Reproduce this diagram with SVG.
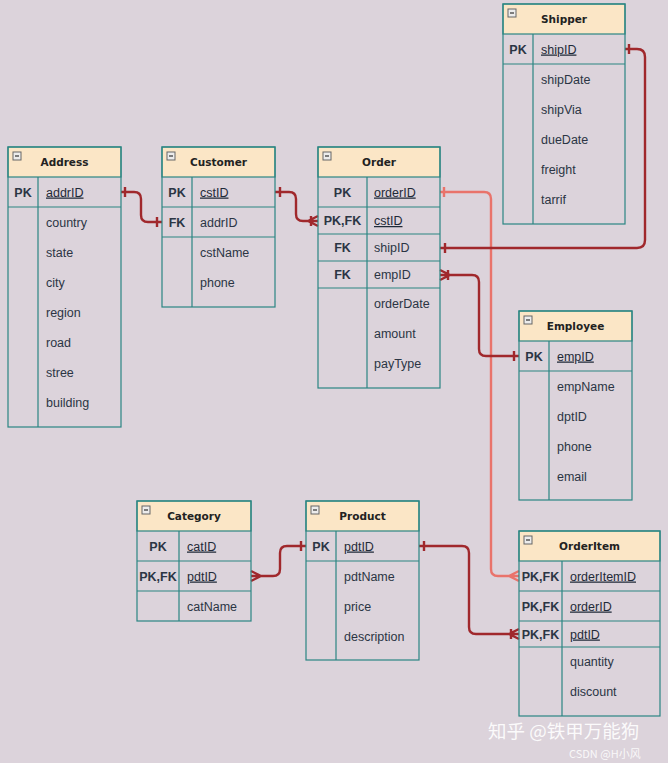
<svg xmlns="http://www.w3.org/2000/svg" width="668" height="763" viewBox="0 0 668 763">
<style>
.bg{fill:#dcd3db}
.box{fill:none;stroke:#2a8582;stroke-width:1.2}
.hd{fill:#fbe6c6;stroke:#2a8582;stroke-width:1.2}
.ln{stroke:#2a8582;stroke-width:1.2}
.ic{fill:#ececec;stroke:#666;stroke-width:1}
.icm{stroke:#333;stroke-width:1.2}
.t{font-family:"DejaVu Sans",Verdana,sans-serif;font-weight:bold;font-size:10.5px;fill:#222;text-anchor:middle}
.k{font-family:"Liberation Sans",Arial,sans-serif;font-weight:bold;font-size:12.5px;fill:#2b3544;text-anchor:middle}
.a{font-family:"Liberation Sans",Arial,sans-serif;font-size:12.5px;fill:#2b3544}
.u{text-decoration:underline;fill:#1f2a38}
.c{fill:none;stroke:#a0282c;stroke-width:2.4}
.s{fill:none;stroke:#e9736b;stroke-width:2.4}
.wm{font-family:"Noto Sans CJK SC","Liberation Sans",sans-serif;fill:#ffffff}
</style>
<rect class="bg" x="0" y="0" width="668" height="763"/>

<g id="connectors">
  <!-- Address -> Customer -->
  <path class="c" d="M121,192 H134 Q141,192 141,199 V215 Q141,222 148,222 H162 M125,187 V197 M157,217 V227"/>
  <!-- Customer -> Order -->
  <path class="c" d="M275,192 H289 Q296,192 296,199 V214 Q296,221 303,221 H318 M280,187 V197 M311,216 V226 M308,221 L318,216 M308,221 L318,226"/>
  <!-- Order.orderID -> OrderItem.orderItemID -->
  <path class="s" d="M440,192 H484 Q491,192 491,199 V569 Q491,576 498,576 H519 M444,187 V197 M509,576 L519,571 M509,576 L519,581"/>
  <!-- Shipper -> Order.shipID -->
  <path class="c" d="M625,49 H637 Q645,49 645,57 V240 Q645,248 637,248 H440 M629,44 V54 M445,243 V253"/>
  <!-- Order.empID -> Employee -->
  <path class="c" d="M440,275 H472 Q479,275 479,282 V349 Q479,356 486,356 H519 M448,270 V280 M450,275 L440,270 M450,275 L440,280 M514,351 V361"/>
  <!-- Category -> Product -->
  <path class="c" d="M251,576 H273 Q280,576 280,569 V553 Q280,546 287,546 H306 M301,541 V551 M261,576 L251,571 M261,576 L251,581"/>
  <!-- Product -> OrderItem.pdtID -->
  <path class="c" d="M419,546 H462 Q469,546 469,553 V627 Q469,634 476,634 H519 M424,541 V551 M511,629 V639 M509,634 L519,629 M509,634 L519,639"/>
</g>

<g id="Address">
  <rect class="hd" x="8" y="147" width="113" height="30"/>
  <rect class="box" x="8" y="147" width="113" height="280"/>
  <line class="ln" x1="8" y1="207" x2="121" y2="207"/>
  <line class="ln" x1="38" y1="177" x2="38" y2="427"/>
  <rect class="ic" x="13" y="152" width="8" height="8"/><line class="icm" x1="15" y1="156" x2="19" y2="156"/>
  <text class="t" x="64.5" y="166">Address</text>
  <text class="k" x="23" y="196.5">PK</text>
  <text class="a u" x="46" y="196.5">addrID</text>
  <text class="a" x="46" y="226.5">country</text>
  <text class="a" x="46" y="256.5">state</text>
  <text class="a" x="46" y="286.5">city</text>
  <text class="a" x="46" y="316.5">region</text>
  <text class="a" x="46" y="346.5">road</text>
  <text class="a" x="46" y="376.5">stree</text>
  <text class="a" x="46" y="406.5">building</text>
</g>

<g id="Customer">
  <rect class="hd" x="162" y="147" width="113" height="30"/>
  <rect class="box" x="162" y="147" width="113" height="160"/>
  <line class="ln" x1="162" y1="207" x2="275" y2="207"/>
  <line class="ln" x1="162" y1="237" x2="275" y2="237"/>
  <line class="ln" x1="192" y1="177" x2="192" y2="307"/>
  <rect class="ic" x="167" y="152" width="8" height="8"/><line class="icm" x1="169" y1="156" x2="173" y2="156"/>
  <text class="t" x="218.5" y="166">Customer</text>
  <text class="k" x="177" y="196.5">PK</text>
  <text class="a u" x="200" y="196.5">cstID</text>
  <text class="k" x="177" y="226.5">FK</text>
  <text class="a" x="200" y="226.5">addrID</text>
  <text class="a" x="200" y="257">cstName</text>
  <text class="a" x="200" y="287">phone</text>
</g>

<g id="Order">
  <rect class="hd" x="318" y="147" width="122" height="30"/>
  <rect class="box" x="318" y="147" width="122" height="241"/>
  <line class="ln" x1="318" y1="207" x2="440" y2="207"/>
  <line class="ln" x1="318" y1="234" x2="440" y2="234"/>
  <line class="ln" x1="318" y1="261" x2="440" y2="261"/>
  <line class="ln" x1="318" y1="288" x2="440" y2="288"/>
  <line class="ln" x1="367" y1="177" x2="367" y2="388"/>
  <rect class="ic" x="323" y="152" width="8" height="8"/><line class="icm" x1="325" y1="156" x2="329" y2="156"/>
  <text class="t" x="379" y="166">Order</text>
  <text class="k" x="342.5" y="196.5">PK</text>
  <text class="a u" x="374" y="196.5">orderID</text>
  <text class="k" x="342.5" y="225">PK,FK</text>
  <text class="a u" x="374" y="225">cstID</text>
  <text class="k" x="342.5" y="252">FK</text>
  <text class="a" x="374" y="252">shipID</text>
  <text class="k" x="342.5" y="279">FK</text>
  <text class="a" x="374" y="279">empID</text>
  <text class="a" x="374" y="308">orderDate</text>
  <text class="a" x="374" y="338">amount</text>
  <text class="a" x="374" y="368">payType</text>
</g>

<g id="Shipper">
  <rect class="hd" x="503" y="4" width="122" height="30"/>
  <rect class="box" x="503" y="4" width="122" height="220"/>
  <line class="ln" x1="503" y1="64" x2="625" y2="64"/>
  <line class="ln" x1="533" y1="34" x2="533" y2="224"/>
  <rect class="ic" x="508" y="9" width="8" height="8"/><line class="icm" x1="510" y1="13" x2="514" y2="13"/>
  <text class="t" x="564" y="23">Shipper</text>
  <text class="k" x="518" y="53.5">PK</text>
  <text class="a u" x="541" y="53.5">shipID</text>
  <text class="a" x="541" y="83.5">shipDate</text>
  <text class="a" x="541" y="113.5">shipVia</text>
  <text class="a" x="541" y="143.5">dueDate</text>
  <text class="a" x="541" y="173.5">freight</text>
  <text class="a" x="541" y="203.5">tarrif</text>
</g>

<g id="Employee">
  <rect class="hd" x="519" y="311" width="113" height="30"/>
  <rect class="box" x="519" y="311" width="113" height="189"/>
  <line class="ln" x1="519" y1="371" x2="632" y2="371"/>
  <line class="ln" x1="549" y1="341" x2="549" y2="500"/>
  <rect class="ic" x="524" y="316" width="8" height="8"/><line class="icm" x1="526" y1="320" x2="530" y2="320"/>
  <text class="t" x="575.5" y="330">Employee</text>
  <text class="k" x="534" y="360.5">PK</text>
  <text class="a u" x="557" y="360.5">empID</text>
  <text class="a" x="557" y="390.5">empName</text>
  <text class="a" x="557" y="420.5">dptID</text>
  <text class="a" x="557" y="450.5">phone</text>
  <text class="a" x="557" y="480.5">email</text>
</g>

<g id="Category">
  <rect class="hd" x="137" y="501" width="114" height="30"/>
  <rect class="box" x="137" y="501" width="114" height="120"/>
  <line class="ln" x1="137" y1="561" x2="251" y2="561"/>
  <line class="ln" x1="137" y1="591" x2="251" y2="591"/>
  <line class="ln" x1="179" y1="531" x2="179" y2="621"/>
  <rect class="ic" x="142" y="506" width="8" height="8"/><line class="icm" x1="144" y1="510" x2="148" y2="510"/>
  <text class="t" x="194" y="520">Category</text>
  <text class="k" x="158" y="550.5">PK</text>
  <text class="a u" x="187" y="550.5">catID</text>
  <text class="k" x="158" y="580.5">PK,FK</text>
  <text class="a u" x="187" y="580.5">pdtID</text>
  <text class="a" x="187" y="610.5">catName</text>
</g>

<g id="Product">
  <rect class="hd" x="306" y="501" width="113" height="30"/>
  <rect class="box" x="306" y="501" width="113" height="159"/>
  <line class="ln" x1="306" y1="561" x2="419" y2="561"/>
  <line class="ln" x1="336" y1="531" x2="336" y2="660"/>
  <rect class="ic" x="311" y="506" width="8" height="8"/><line class="icm" x1="313" y1="510" x2="317" y2="510"/>
  <text class="t" x="362.5" y="520">Product</text>
  <text class="k" x="321" y="550.5">PK</text>
  <text class="a u" x="344" y="550.5">pdtID</text>
  <text class="a" x="344" y="580.5">pdtName</text>
  <text class="a" x="344" y="610.5">price</text>
  <text class="a" x="344" y="640.5">description</text>
</g>

<g id="OrderItem">
  <rect class="hd" x="519" y="531" width="141" height="30"/>
  <rect class="box" x="519" y="531" width="141" height="185"/>
  <line class="ln" x1="519" y1="591" x2="660" y2="591"/>
  <line class="ln" x1="519" y1="621" x2="660" y2="621"/>
  <line class="ln" x1="519" y1="647" x2="660" y2="647"/>
  <line class="ln" x1="562" y1="561" x2="562" y2="716"/>
  <rect class="ic" x="524" y="536" width="8" height="8"/><line class="icm" x1="526" y1="540" x2="530" y2="540"/>
  <text class="t" x="589.5" y="550">OrderItem</text>
  <text class="k" x="540.5" y="580.5">PK,FK</text>
  <text class="a u" x="570" y="580.5">orderItemID</text>
  <text class="k" x="540.5" y="610.5">PK,FK</text>
  <text class="a u" x="570" y="610.5">orderID</text>
  <text class="k" x="540.5" y="638.5">PK,FK</text>
  <text class="a u" x="570" y="638.5">pdtID</text>
  <text class="a" x="570" y="665.5">quantity</text>
  <text class="a" x="570" y="695.5">discount</text>
</g>

<g id="watermark">
  <text class="wm" x="488" y="738" font-size="18.5" opacity="0.9">知乎 @铁甲万能狗</text>
  <text class="wm" x="569" y="758" font-size="11" opacity="0.85">CSDN @H小风</text>
</g>
</svg>
